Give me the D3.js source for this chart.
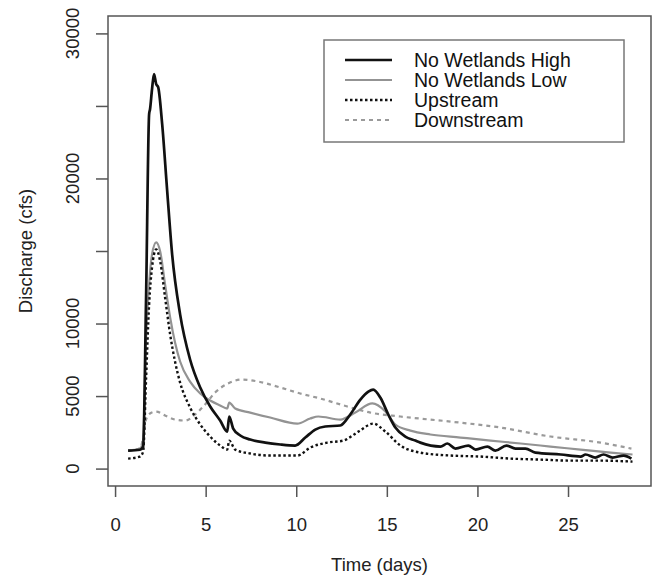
<!DOCTYPE html>
<html>
<head>
<meta charset="utf-8">
<script src="https://cdn.jsdelivr.net/npm/d3@7"></script>
<style>
  body { margin: 0; background: #fff; }
  svg { display: block; font-family: "Liberation Sans", Arial, sans-serif; }
</style>
</head>
<body>
<div id="chart"></div>
<script>
// [day, discharge in cfs]
var noWetlandsHigh = [
  [0.72, 1240], [1.38, 1300], [1.55, 1520], [1.71, 11660], [1.88, 24430], [1.93, 24770],
  [2.04, 26150], [2.15, 27200], [2.27, 26500], [2.38, 26290], [2.6, 23740], [2.87, 19250],
  [3.15, 14770], [3.59, 10630], [4.14, 7520], [4.7, 5590], [5.25, 4280], [5.8, 3310],
  [6.19, 2550], [6.3, 3590], [6.52, 2760], [6.91, 2280], [7.46, 2000], [8.29, 1790],
  [9.12, 1660], [9.94, 1590], [10.5, 2140], [11.05, 2690], [11.6, 2900], [12.43, 2970],
  [12.98, 3730], [13.54, 4760], [13.98, 5310], [14.25, 5450], [14.64, 4900], [15.08, 3730],
  [15.47, 2830], [16.02, 2210], [16.57, 1930], [16.85, 1790], [17.96, 1520], [18.34, 1730],
  [18.78, 1380], [19.5, 1590], [19.9, 1310], [20.55, 1520], [20.99, 1240], [21.6, 1590],
  [22.1, 1380], [22.65, 1380], [23.2, 1100], [24.6, 970], [25.7, 830], [25.97, 970],
  [26.5, 760], [26.96, 970], [27.46, 760], [28.07, 900], [28.5, 690]
];
var noWetlandsLow = [
  [0.72, 1240], [1.38, 1380], [1.55, 2000], [1.71, 8900], [1.88, 12700], [2.04, 14770],
  [2.27, 15600], [2.49, 14970], [2.76, 12700], [3.04, 10420], [3.31, 8690], [3.59, 7380],
  [4.14, 6000], [4.7, 5180], [5.25, 4690], [5.8, 4350], [6.19, 4140], [6.3, 4550],
  [6.63, 4140], [7.46, 3860], [8.56, 3520], [10.06, 3100], [10.77, 3450], [11.22, 3590],
  [12.43, 3380], [13.26, 3860], [14.2, 4490], [14.92, 3930], [15.47, 3040], [16.3, 2620],
  [17.4, 2350], [19.06, 2140], [20.72, 1930], [22.38, 1730], [24.03, 1520], [25.69, 1310],
  [27.35, 1100], [28.56, 970]
];
var upstream = [
  [0.72, 690], [1.38, 830], [1.55, 1170], [1.71, 6140], [1.88, 11320], [2.04, 13870],
  [2.27, 15110], [2.49, 14280], [2.76, 11800], [3.04, 9250], [3.31, 7380], [3.59, 5930],
  [4.14, 4210], [4.7, 3040], [5.25, 2210], [5.8, 1590], [6.19, 1310], [6.3, 1930],
  [6.63, 1310], [7.46, 1040], [8.56, 900], [10.06, 900], [10.77, 1450], [11.71, 1790],
  [12.6, 1930], [13.43, 2550], [14.25, 3100], [14.92, 2550], [15.75, 1590], [16.85, 1100],
  [18.5, 900], [20.17, 830], [21.8, 690], [23.5, 620], [25.1, 550], [26.8, 550], [28.56, 480]
];
var downstream = [
  [0.72, 1240], [1.38, 1380], [1.55, 2140], [1.71, 3380], [1.93, 3800], [2.27, 3930],
  [2.76, 3660], [3.31, 3380], [3.87, 3310], [4.42, 3730], [4.97, 4420], [5.52, 5240],
  [6.24, 5870], [7.02, 6140], [7.9, 6000], [9.12, 5590], [10.22, 5180], [11.33, 4830],
  [12.82, 4280], [14.09, 3860], [15.75, 3590], [18.51, 3240], [21.27, 2830], [24.03, 2210],
  [26.8, 1790], [28.5, 1380]
];
var seriesNames = ["No Wetlands High", "No Wetlands Low", "Upstream", "Downstream"];
var xTicks = [0, 5, 10, 15, 20, 25];
var yTicks = [0, 5000, 10000, 15000, 20000, 25000, 30000];
var yTickLabels = ["0", "5000", "10000", "", "20000", "", "30000"];

var W = 654, H = 579;
var box = { left: 108, right: 651, top: 16, bottom: 486 };

var x = d3.scaleLinear().domain([-0.39, 29.58]).range([box.left, box.right]);
var y = d3.scaleLinear().domain([-1200, 31200]).range([box.bottom, box.top]);

var svg = d3.select("#chart").append("svg").attr("width", W).attr("height", H);

var styles = [
  { color: "#111", width: 2.7, dash: null },
  { color: "#939393", width: 2.2, dash: null },
  { color: "#111", width: 2.4, dash: "2.5,2.5" },
  { color: "#9a9a9a", width: 2.2, dash: "4,4" }
];
var allSeries = [noWetlandsHigh, noWetlandsLow, upstream, downstream];

var line = d3.line()
  .x(function (d) { return x(d[0]); })
  .y(function (d) { return y(d[1]); })
  .curve(d3.curveMonotoneX);

// draw back to front so the dark lines sit on top
[3, 1, 2, 0].forEach(function (i) {
  svg.append("path").datum(allSeries[i])
    .attr("fill", "none")
    .attr("stroke", styles[i].color)
    .attr("stroke-width", styles[i].width)
    .attr("stroke-dasharray", styles[i].dash)
    .attr("stroke-linejoin", "round")
    .attr("d", line);
});

// plot box
svg.append("rect")
  .attr("x", box.left).attr("y", box.top)
  .attr("width", box.right - box.left).attr("height", box.bottom - box.top)
  .attr("fill", "none").attr("stroke", "#555").attr("stroke-width", 1.5);

// x axis
var xAxis = d3.axisBottom(x).tickValues(xTicks).tickSize(11).tickPadding(21)
  .tickFormat(d3.format("d"));
var gx = svg.append("g").attr("transform", "translate(0," + box.bottom + ")").call(xAxis);
gx.select(".domain").remove();
gx.selectAll("line").attr("stroke", "#555").attr("stroke-width", 1.5);
gx.selectAll("text").attr("font-size", 18.5).attr("fill", "#222");

// y axis
var yAxis = d3.axisLeft(y).tickValues(yTicks).tickSize(12).tickFormat("");
var gy = svg.append("g").attr("transform", "translate(" + box.left + ",0)").call(yAxis);
gy.select(".domain").remove();
gy.selectAll("line").attr("stroke", "#555").attr("stroke-width", 1.5);
svg.selectAll(".ylab").data(yTicks).enter().append("text")
  .attr("class", "ylab")
  .attr("transform", function (d) { return "translate(79," + y(d) + ") rotate(-90)"; })
  .attr("text-anchor", "middle")
  .attr("font-size", 18.5).attr("fill", "#222")
  .text(function (d, i) { return yTickLabels[i]; });

// axis titles
svg.append("text")
  .attr("x", (box.left + box.right) / 2).attr("y", 571)
  .attr("text-anchor", "middle").attr("font-size", 18.5).attr("fill", "#222")
  .text("Time (days)");
svg.append("text")
  .attr("transform", "translate(32," + (box.top + box.bottom) / 2 + ") rotate(-90)")
  .attr("text-anchor", "middle").attr("font-size", 18.5).attr("fill", "#222")
  .text("Discharge (cfs)");

// legend
var legend = svg.append("g");
legend.append("rect")
  .attr("x", 324).attr("y", 40).attr("width", 300).attr("height", 102)
  .attr("fill", "#fff").attr("stroke", "#777").attr("stroke-width", 1.5);
seriesNames.forEach(function (name, i) {
  var ly = 60 + i * 20;
  legend.append("line")
    .attr("x1", 345).attr("x2", 392).attr("y1", ly).attr("y2", ly)
    .attr("stroke", styles[i].color)
    .attr("stroke-width", styles[i].width)
    .attr("stroke-dasharray", styles[i].dash);
  legend.append("text")
    .attr("x", 414).attr("y", ly + 7)
    .attr("font-size", 19.5).attr("fill", "#111")
    .text(name);
});
</script>
</body>
</html>
